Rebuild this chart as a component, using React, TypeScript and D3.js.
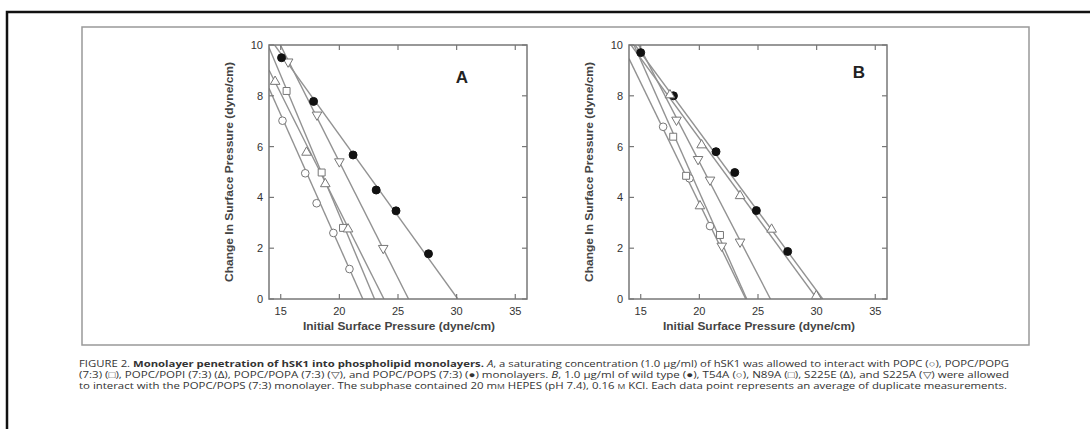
import React, { useEffect, useRef } from "react";
import * as d3 from "d3";

// axis ticks shared by both panels
const xTicks = [15, 20, 25, 30, 35];
const yTicks = [0, 2, 4, 6, 8, 10];

// Panel A: monolayer composition, [initial pressure, change in pressure]
const popc = [[15.15, 7.02], [17.09, 4.95], [18.06, 3.77], [19.49, 2.6], [20.86, 1.18]];
const popg = [[15.5, 8.19], [18.49, 4.98], [20.31, 2.8]];
const popi = [[14.52, 8.56], [17.2, 5.77], [18.8, 4.53], [20.74, 2.75]];
const popa = [[15.63, 9.34], [18.09, 7.25], [20.0, 5.41], [23.74, 2.0]];
const pops = [[15.07, 9.5], [17.8, 7.78], [21.17, 5.67], [23.14, 4.29], [24.83, 3.47], [27.6, 1.78]];

// Panel B: hSK1 mutants on POPC/POPS (7:3)
const wt = [[15.0, 9.7], [17.79, 8.0], [21.42, 5.8], [23.02, 4.98], [24.86, 3.48], [27.53, 1.87]];
const t54a = [[16.91, 6.78], [19.16, 4.75], [20.91, 2.87]];
const n89a = [[17.77, 6.39], [18.87, 4.85], [21.76, 2.52]];
const s225e = [[17.49, 8.03], [20.19, 6.06], [20.05, 3.66], [23.47, 4.06], [26.16, 2.74], [29.97, 0.12]];
const s225a = [[18.05, 7.05], [19.89, 5.5], [20.91, 4.69], [21.91, 2.09], [23.47, 2.25]];

// fitted lines: x-intercept (critical pressure) and slope
const fitsA = [
  { pc: 22.0, slope: -1.037 },
  { pc: 23.0, slope: -1.1 },
  { pc: 23.8, slope: -0.92 },
  { pc: 25.9, slope: -0.915 },
  { pc: 30.1, slope: -0.64 },
];
const fitsB = [
  { pc: 30.52, slope: -0.625 },
  { pc: 23.96, slope: -0.95 },
  { pc: 24.04, slope: -1.04 },
  { pc: 30.04, slope: -0.63 },
  { pc: 26.06, slope: -0.89 },
];

const panels = [
  {
    id: "A",
    left: 269,
    label: [462, 77],
    series: [
      { pts: popc, shape: "circle", filled: false },
      { pts: popg, shape: "square", filled: false },
      { pts: popi, shape: "up", filled: false },
      { pts: popa, shape: "down", filled: false },
      { pts: pops, shape: "circle", filled: true },
    ],
    fits: fitsA,
  },
  {
    id: "B",
    left: 629,
    label: [859, 72],
    series: [
      { pts: wt, shape: "circle", filled: true },
      { pts: t54a, shape: "circle", filled: false },
      { pts: n89a, shape: "square", filled: false },
      { pts: s225e, shape: "up", filled: false },
      { pts: s225a, shape: "down", filled: false },
    ],
    fits: fitsB,
  },
];

const font = "'Liberation Sans', Arial, Helvetica, sans-serif";
const capFont = "'Open Sans', 'Noto Sans', sans-serif";

const App = () => {
  const svgRef: any = useRef();

  useEffect(() => {
    const svg = d3.select(svgRef.current);
    svg.selectAll("*").remove();
    const width = 1090;
    const height = 429;
    const plotW = 258;
    const top = 45;
    const bottom = 299;

    // outer page frame and figure box
    svg.append("rect").attr("x", 7).attr("y", 12).attr("width", 1200).attr("height", 600)
      .attr("fill", "none").attr("stroke", "#111").attr("stroke-width", 2.5);
    svg.append("rect").attr("x", 82).attr("y", 27).attr("width", 947).attr("height", 318)
      .attr("fill", "none").attr("stroke", "#999").attr("stroke-width", 1.5);

    panels.forEach((p) => {
      const x = d3.scaleLinear().domain([14, 36]).range([p.left, p.left + plotW]);
      const y = d3.scaleLinear().domain([0, 10]).range([bottom, top]);
      const g = svg.append("g");

      const clipId = "clip" + p.id;
      g.append("clipPath").attr("id", clipId).append("rect")
        .attr("x", p.left).attr("y", top).attr("width", plotW).attr("height", bottom - top);

      // fitted lines
      const line = d3.line<any>().x((d) => x(d[0])).y((d) => y(d[1]));
      g.append("g").attr("clip-path", `url(#${clipId})`)
        .selectAll("path")
        .data(p.fits)
        .join("path")
        .attr("d", (f) => line([[14, f.slope * (14 - f.pc)], [f.pc, 0]]))
        .attr("fill", "none")
        .attr("stroke", "#929292")
        .attr("stroke-width", 1.4);

      // ticks inside the frame
      const tk = g.append("g").attr("stroke", "#777").attr("stroke-width", 1.2);
      xTicks.forEach((t) => {
        tk.append("line").attr("x1", x(t)).attr("x2", x(t)).attr("y1", bottom).attr("y2", bottom - 5);
        tk.append("line").attr("x1", x(t)).attr("x2", x(t)).attr("y1", top).attr("y2", top + 5);
      });
      yTicks.forEach((t) => {
        tk.append("line").attr("x1", p.left).attr("x2", p.left + 5).attr("y1", y(t)).attr("y2", y(t));
        tk.append("line").attr("x1", p.left + plotW).attr("x2", p.left + plotW - 5).attr("y1", y(t)).attr("y2", y(t));
      });

      g.append("rect").attr("x", p.left).attr("y", top).attr("width", plotW).attr("height", bottom - top)
        .attr("fill", "none").attr("stroke", "#777").attr("stroke-width", 1.5);

      // tick labels
      g.selectAll(".xl").data(xTicks).join("text")
        .attr("x", (d) => x(d)).attr("y", bottom + 16)
        .attr("text-anchor", "middle").attr("font-size", 11).attr("font-family", font)
        .attr("fill", "#333").text((d) => d);
      g.selectAll(".yl").data(yTicks).join("text")
        .attr("x", p.left - 6).attr("y", (d) => y(d) + 4)
        .attr("text-anchor", "end").attr("font-size", 11).attr("font-family", font)
        .attr("fill", "#333").text((d) => d);

      // axis titles
      g.append("text").attr("x", p.left + plotW / 2 + 1).attr("y", bottom + 31)
        .attr("text-anchor", "middle").attr("font-size", 10.5).attr("font-weight", "bold")
        .attr("font-family", font).attr("fill", "#444")
        .attr("textLength", 192).attr("lengthAdjust", "spacingAndGlyphs")
        .text("Initial Surface Pressure (dyne/cm)");
      g.append("text").attr("transform", `translate(${p.left - 36},${(top + bottom) / 2}) rotate(-90)`)
        .attr("text-anchor", "middle").attr("font-size", 10.5).attr("font-weight", "bold")
        .attr("font-family", font).attr("fill", "#444")
        .attr("textLength", 220).attr("lengthAdjust", "spacingAndGlyphs")
        .text("Change In Surface Pressure (dyne/cm)");

      g.append("text").attr("x", p.label[0]).attr("y", p.label[1] + 6)
        .attr("text-anchor", "middle").attr("font-size", 17).attr("font-weight", "bold")
        .attr("font-family", font).attr("fill", "#222").text(p.id);

      // markers
      p.series.forEach((s) => {
        const type = s.shape === "square" ? d3.symbolSquare : s.shape === "circle" ? d3.symbolCircle : d3.symbolTriangle;
        const size = s.shape === "square" ? 48 : s.shape === "circle" ? (s.filled ? 50 : 46) : 40;
        const sym = d3.symbol().type(type).size(size);
        g.selectAll(null).data(s.pts).join("path")
          .attr("d", sym() as string)
          .attr("transform", (d: any) => `translate(${x(d[0])},${y(d[1])})${s.shape === "down" ? " rotate(180)" : ""}`)
          .attr("fill", s.filled ? "#111" : "#fff")
          .attr("stroke", s.filled ? "#111" : "#777")
          .attr("stroke-width", 1);
      });
    });

    // caption
    const cap = svg.append("g").attr("font-family", capFont).attr("font-size", 9.2).attr("fill", "#333");
    const l1 = cap.append("text").attr("x", 79).attr("y", 367).attr("textLength", 930).attr("lengthAdjust", "spacingAndGlyphs");
    l1.append("tspan").text("FIGURE 2. ");
    l1.append("tspan").attr("font-weight", "bold").text("Monolayer penetration of hSK1 into phospholipid monolayers. ");
    l1.append("tspan").attr("font-style", "italic").text("A");
    l1.append("tspan").text(", a saturating concentration (1.0 \u03bcg/ml) of hSK1 was allowed to interact with POPC (\u25cb), POPC/POPG");

    const l2 = cap.append("text").attr("x", 79).attr("y", 378).attr("textLength", 930).attr("lengthAdjust", "spacingAndGlyphs");
    l2.append("tspan").text("(7:3) (\u25a1), POPC/POPI (7:3) (\u0394), POPC/POPA (7:3) (\u25bd), and POPC/POPS (7:3) (\u25cf) monolayers. ");
    l2.append("tspan").attr("font-style", "italic").text("B");
    l2.append("tspan").text(", 1.0 \u03bcg/ml of wild type (\u25cf), T54A (\u25cb), N89A (\u25a1), S225E (\u0394), and S225A (\u25bd) were allowed");

    const l3 = cap.append("text").attr("x", 79).attr("y", 389).attr("textLength", 928).attr("lengthAdjust", "spacingAndGlyphs");
    l3.append("tspan").text("to interact with the POPC/POPS (7:3) monolayer. The subphase contained 20 m");
    l3.append("tspan").attr("font-size", 7).text("M");
    l3.append("tspan").text(" HEPES (pH 7.4), 0.16 ");
    l3.append("tspan").attr("font-size", 7).text("M");
    l3.append("tspan").text(" KCl. Each data point represents an average of duplicate measurements.");

    svg.attr("width", width).attr("height", height);
  }, []);

  return (
    <svg
      ref={svgRef}
      width={1090}
      height={429}
      style={{ position: "absolute", left: 0, top: 0, background: "#fff" }}
    ></svg>
  );
};

export default App;
